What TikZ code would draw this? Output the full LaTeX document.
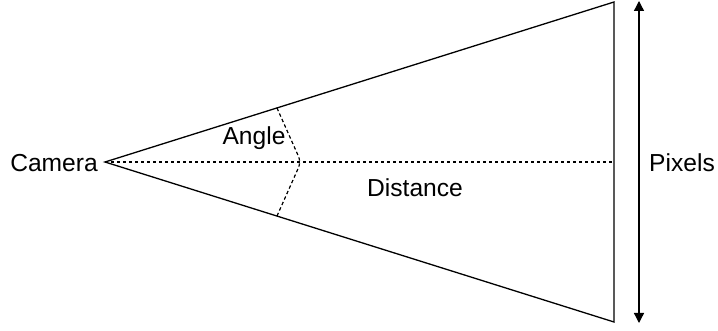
\documentclass[tikz,border=0pt]{standalone}
\usepackage{fontspec}
\setmainfont{Liberation Sans}
\usetikzlibrary{arrows.meta}
\tikzset{
  lbl/.style={font=\fontsize{12.3}{14}\selectfont,inner sep=0pt},
  edge/.style={line width=0.65pt},
  guide/.style={line width=0.6pt,dash pattern=on 1.7pt off 1.3pt},
  span/.style={{Triangle[length=5pt,width=5pt]}-{Triangle[length=5pt,width=5pt]},line width=0.65pt},
}
\begin{document}
\begin{tikzpicture}[x=0.5pt,y=-0.5pt]
  \useasboundingbox (0,0) rectangle (718,331);
  % frustum
  \coordinate (apex) at (105,162);
  \coordinate (tr) at (614,2);
  \coordinate (br) at (614,322);
  \coordinate (far) at (614,162);
  \coordinate (atop) at (277,108);
  \coordinate (amid) at (301,162);
  \coordinate (abot) at (277,216);
  \coordinate (ptop) at (639,1);
  \coordinate (pbot) at (639,323);
  \node[lbl] (cam) at (54,163) {Camera};
  \node[lbl] (ang) at (254,138) {Angle};
  \node[lbl] (dist) at (415,188) {Distance};
  \node[lbl] (pix) at (682,163) {Pixels};
  \draw[edge,line join=miter] (apex) -- (tr) -- (br) -- cycle;
  \draw[guide] (apex) -- (far);
  \draw[guide,rounded corners=3pt] (atop) -- (amid) -- (abot);
  \draw[span] (ptop) -- (pbot);
\end{tikzpicture}
\end{document}
